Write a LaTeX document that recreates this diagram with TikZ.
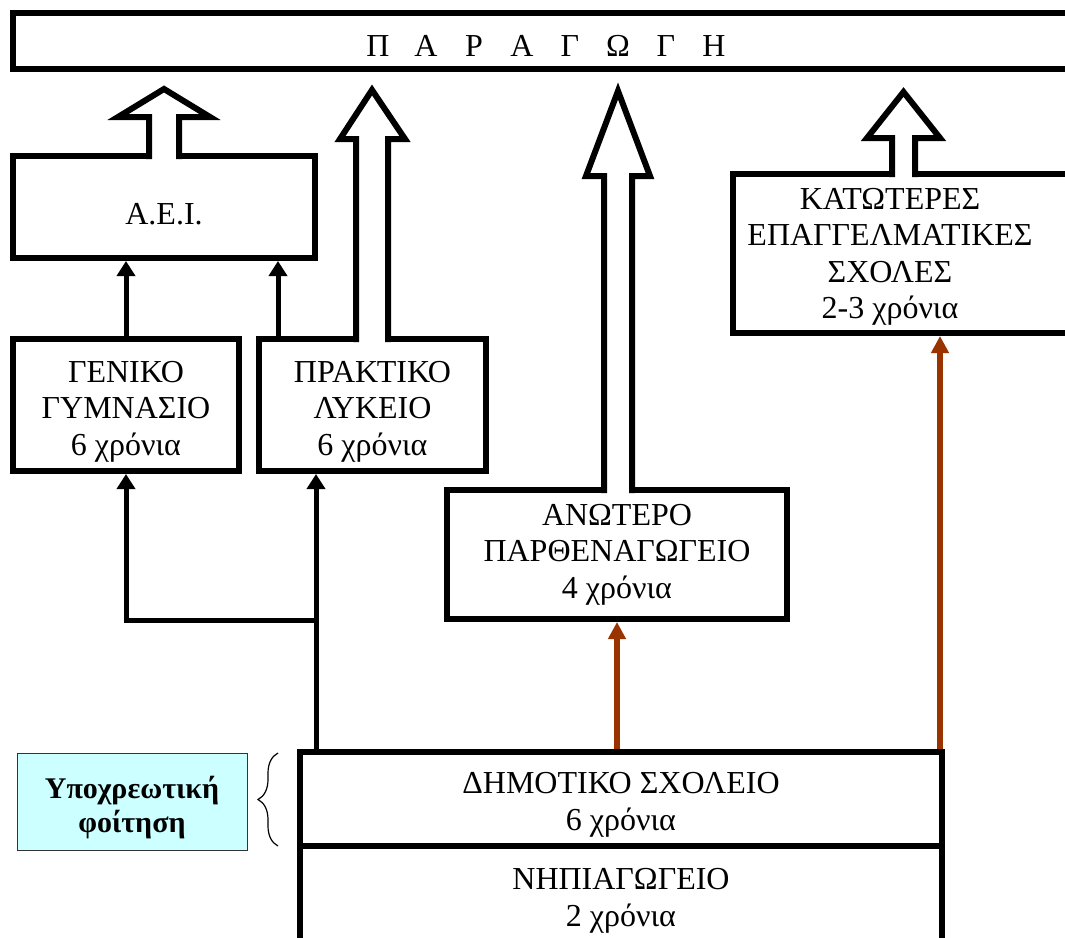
\documentclass[tikz,border=0pt]{standalone}
\usepackage{fontspec}
\setmainfont{Liberation Serif}
\usetikzlibrary{arrows.meta,decorations.pathreplacing}
\definecolor{brownarr}{HTML}{993300}
\definecolor{cyanbox}{HTML}{CCFFFF}
\tikzset{
  boxline/.style={draw=black, line width=6pt, fill=white},
  frame/.style={boxline, rectangle, inner sep=0pt},
  lbl/.style={font=\fontsize{32}{36.5}\selectfont, align=center, inner sep=0pt},
  blk/.style={-{Triangle[length=15pt,width=18pt]}, line width=5pt},
  brn/.style={-{Triangle[length=17pt,width=17pt]}, line width=6pt, draw=brownarr},
}
\begin{document}
\begin{tikzpicture}[x=1pt,y=-1pt]
\useasboundingbox (0,0) rectangle (1065,937);
\clip (0,0) rectangle (1065,937);

% boxes
\node[frame, minimum width=1077pt, minimum height=56pt] (prod) at (551.5,41) {};
\node[frame, minimum width=302pt, minimum height=102pt] (aei) at (164,207) {};
\node[frame, minimum width=226pt, minimum height=132pt] (gen) at (126,405) {};
\node[frame, minimum width=227pt, minimum height=132pt] (prak) at (372.5,405) {};
\node[frame, minimum width=340pt, minimum height=129pt] (anot) at (617,554.5) {};
\node[frame, minimum width=357pt, minimum height=159pt] (kat) at (911.5,253.5) {};
\node[frame, minimum width=642pt, minimum height=94pt] (dim) at (621,799) {};
\node[frame, minimum width=642pt, minimum height=134pt] (nip) at (621,913) {};
\node[draw=black!80, line width=1pt, fill=cyanbox, minimum width=230pt, minimum height=97pt, inner sep=0pt] (ypox) at (132,801.5) {};

% block arrows (stems open at the bottom)
\path[boxline] (149,159) -- (149,117) -- (118,117) -- (164,89) -- (210,117) -- (179,117) -- (179,159);
\path[boxline] (356,342) -- (356,139) -- (340,139) -- (372,90) -- (405,139) -- (388,139) -- (388,342);
\path[boxline] (604,493) -- (604,176) -- (586,176) -- (618,91) -- (650,176) -- (632,176) -- (632,493);
\path[boxline] (892,177) -- (892,138) -- (867,138) -- (903.5,92) -- (940,138) -- (915,138) -- (915,177);

% connector columns
\coordinate (xb) at (278,0);
\coordinate (xc) at (316,0);
\coordinate (xk) at (940,0);
\coordinate (br) at (316,620);

\draw[blk] (gen.north) -- (aei.south -| gen.north);
\draw[blk] (prak.north -| xb) -- (aei.south -| xb);
\draw[blk] (dim.north -| xc) -- (prak.south -| xc);
\draw[blk] (br) -| (gen.south);
\draw[brn] (dim.north -| anot.south) -- (anot.south);
\draw[brn] (dim.north -| xk) -- (kat.south -| xk);

% brace
\draw[line width=1.2pt, decorate, decoration={brace, amplitude=20pt}] (278,846) -- (278,753);

% texts
\node[lbl, anchor=base] (prodT) at (546,56) {\makebox[48pt]{Π}\makebox[48pt]{Α}\makebox[48pt]{Ρ}\makebox[48pt]{Α}\makebox[48pt]{Γ}\makebox[48pt]{Ω}\makebox[48pt]{Γ}\makebox[48pt]{Η}};
\node[lbl, anchor=base] (aeiT) at (164,224) {Α.Ε.Ι.};
\node[lbl] (genT) at (126,411.4) {ΓΕΝΙΚΟ\\ΓΥΜΝΑΣΙΟ\\6 χρόνια};
\node[lbl] (prakT) at (372.5,411.4) {ΠΡΑΚΤΙΚΟ\\ΛΥΚΕΙΟ\\6 χρόνια};
\node[lbl] (anotT) at (617,554.4) {ΑΝΩΤΕΡΟ\\ΠΑΡΘΕΝΑΓΩΓΕΙΟ\\4 χρόνια};
\node[lbl] (katT) at (890,256.6) {ΚΑΤΩΤΕΡΕΣ\\ΕΠΑΓΓΕΛΜΑΤΙΚΕΣ\\ΣΧΟΛΕΣ\\2-3 χρόνια};
\node[lbl] (dimT) at (621,805) {ΔΗΜΟΤΙΚΟ ΣΧΟΛΕΙΟ\\6 χρόνια};
\node[lbl] (nipT) at (621,901) {ΝΗΠΙΑΓΩΓΕΙΟ\\2 χρόνια};
\node[font=\bfseries\fontsize{30}{34}\selectfont, align=center, inner sep=0pt] (ypoxT) at (132,808) {Υποχρεωτική\\φοίτηση};
\end{tikzpicture}
\end{document}
